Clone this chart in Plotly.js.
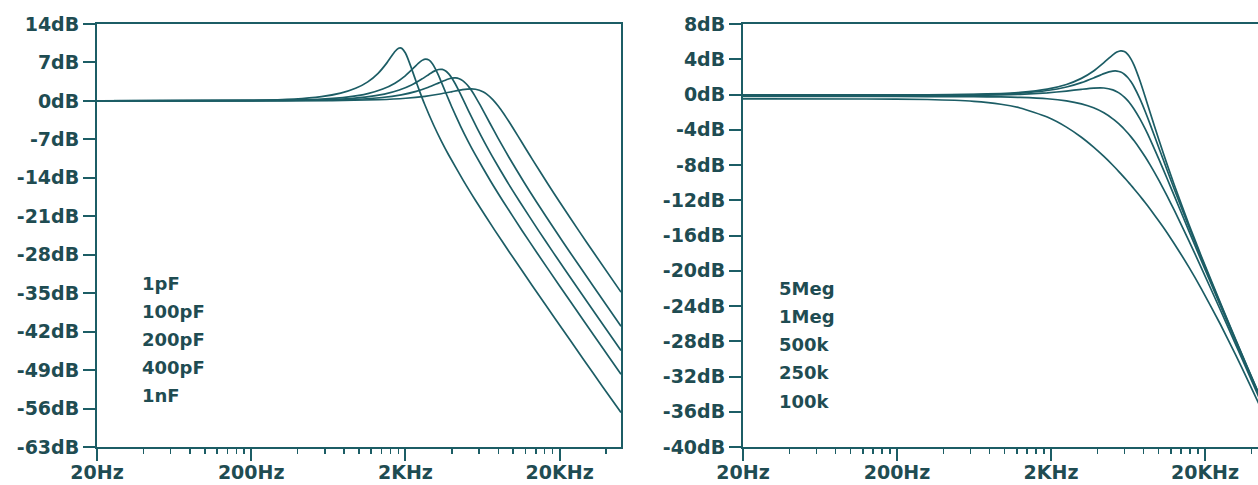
<!DOCTYPE html>
<html>
<head>
<meta charset="utf-8">
<script src="https://cdn.plot.ly/plotly-3.0.1.min.js"></script>
<style>html,body{margin:0;padding:0;background:#fff;}#chart{width:1258px;height:485px;}</style>
</head>
<body>
<div id="chart"></div>
<script>
// ---------- Left panel: capacitor sweep ----------
const leftLabels = ['1pF', '100pF', '200pF', '400pF', '1nF'];

const f1nF = [20, 190, 380, 570, 760, 950, 1140, 1330, 1520, 1615, 1710, 1805, 1853, 1900, 1995, 2090, 2185, 2280, 2470, 2660, 3040, 3420, 3800, 4750, 5700, 7600, 9500, 13300, 19000, 28500, 38000, 50000];
const db1nF = [0, 0.08, 0.33, 0.77, 1.41, 2.29, 3.47, 5.02, 6.97, 8.03, 8.99, 9.59, 9.66, 9.54, 8.76, 7.48, 6.00, 4.51, 1.78, -0.57, -4.34, -7.31, -9.75, -14.51, -18.13, -23.56, -27.63, -33.63, -39.92, -47.01, -52.02, -56.7];

const f400p = [20, 285, 570, 855, 1140, 1425, 1710, 1995, 2280, 2423, 2565, 2708, 2850, 2993, 3135, 3278, 3420, 3705, 3990, 4560, 5130, 5700, 7125, 8550, 11400, 14250, 19950, 28500, 42750, 50000];
const db400p = [0, 0.08, 0.32, 0.74, 1.34, 2.16, 3.23, 4.57, 6.10, 6.82, 7.38, 7.62, 7.42, 6.77, 5.80, 4.64, 3.43, 1.07, -1.06, -4.62, -7.49, -9.88, -14.58, -18.17, -23.58, -27.64, -33.64, -39.92, -47.01, -49.74];

const f200p = [20, 365, 730, 1095, 1460, 1825, 2190, 2555, 2920, 3103, 3285, 3468, 3650, 3833, 4015, 4198, 4380, 4745, 5110, 5840, 6570, 7300, 9125, 10950, 14600, 18250, 25550, 36500, 50000];
const db200p = [0, 0.08, 0.30, 0.69, 1.24, 1.98, 2.90, 3.98, 5.05, 5.47, 5.72, 5.73, 5.44, 4.87, 4.09, 3.17, 2.18, 0.18, -1.71, -5.00, -7.74, -10.06, -14.68, -18.23, -23.61, -27.66, -33.65, -39.93, -45.43];

const f100p = [20, 470, 940, 1410, 1880, 2350, 2820, 3290, 3760, 3995, 4230, 4465, 4700, 4935, 5170, 5405, 5640, 6110, 6580, 7520, 8460, 9400, 11750, 14100, 18800, 23500, 32900, 50000];
const db100p = [0, 0.07, 0.28, 0.62, 1.11, 1.74, 2.49, 3.28, 3.95, 4.14, 4.18, 4.03, 3.69, 3.17, 2.51, 1.75, 0.92, -0.78, -2.45, -5.47, -8.06, -10.30, -14.80, -18.32, -23.65, -27.68, -33.66, -41.02];

const f1p = [20, 670, 1340, 2010, 2680, 3350, 4020, 4690, 5360, 5695, 6030, 6365, 6700, 7370, 8040, 8710, 9380, 10720, 12060, 13400, 16750, 20100, 26800, 33500, 50000];
const db1p = [0, 0.06, 0.22, 0.48, 0.84, 1.26, 1.69, 2.05, 2.18, 2.12, 1.95, 1.67, 1.29, 0.25, -1.02, -2.39, -3.76, -6.37, -8.71, -10.78, -15.08, -18.49, -23.75, -27.74, -34.81];

const leftTickVals = [14, 7, 0, -7, -14, -21, -28, -35, -42, -49, -56, -63];
const leftTickText = ['14dB', '7dB', '0dB', '-7dB', '-14dB', '-21dB', '-28dB', '-35dB', '-42dB', '-49dB', '-56dB', '-63dB'];

// ---------- Right panel: resistor sweep ----------
const rightLabels = ['5Meg', '1Meg', '500k', '250k', '100k'];
const fRight = [20, 126, 315, 630, 945, 1260, 1890, 2520, 3150, 3780, 4410, 5040, 5355, 5670, 5985, 6300, 6615, 6930, 7560, 8190, 8820, 10080, 11340, 12600, 15750, 18900, 25200, 31500, 37800, 50000];
const db5Meg = [-0.05, -0.05, -0.03, 0.02, 0.11, 0.24, 0.61, 1.14, 1.83, 2.67, 3.62, 4.50, 4.81, 4.95, 4.87, 4.56, 4.02, 3.30, 1.55, -0.31, -2.09, -5.26, -7.93, -10.21, -14.78, -18.32, -23.68, -27.72, -30.98, -35.92];
const db1Meg = [-0.08, -0.08, -0.07, -0.02, 0.05, 0.16, 0.45, 0.85, 1.35, 1.88, 2.37, 2.65, 2.66, 2.55, 2.30, 1.93, 1.44, 0.85, -0.50, -1.96, -3.42, -6.15, -8.57, -10.70, -15.06, -18.51, -23.79, -27.80, -31.04, -35.97];
const db500k = [-0.12, -0.12, -0.11, -0.08, -0.04, 0.02, 0.19, 0.39, 0.59, 0.73, 0.74, 0.53, 0.32, 0.05, -0.30, -0.70, -1.16, -1.67, -2.77, -3.94, -5.12, -7.41, -9.53, -11.45, -15.53, -18.83, -23.98, -27.94, -31.15, -36.05];
const db250k = [-0.22, -0.22, -0.23, -0.25, -0.28, -0.33, -0.48, -0.72, -1.06, -1.51, -2.08, -2.76, -3.14, -3.53, -3.94, -4.37, -4.81, -5.26, -6.18, -7.10, -8.02, -9.81, -11.51, -13.10, -16.64, -19.64, -24.48, -28.29, -31.42, -36.25];
const db100k = [-0.50, -0.51, -0.57, -0.78, -1.11, -1.53, -2.56, -3.70, -4.85, -5.97, -7.03, -8.03, -8.51, -8.98, -9.43, -9.87, -10.30, -10.72, -11.52, -12.29, -13.02, -14.41, -15.69, -16.90, -19.62, -22.02, -26.10, -29.49, -32.37, -36.92];

const rightTickVals = [8, 4, 0, -4, -8, -12, -16, -20, -24, -28, -32, -36, -40];
const rightTickText = ['8dB', '4dB', '0dB', '-4dB', '-8dB', '-12dB', '-16dB', '-20dB', '-24dB', '-28dB', '-32dB', '-36dB', '-40dB'];

// ---------- shared x ticks ----------
const xTickVals = [20, 200, 2000, 20000];
const xTickText = ['20Hz', '200Hz', '2KHz', '20KHz'];
const xMinorVals = [40, 60, 80, 100, 120, 140, 160, 180, 400, 600, 800, 1000, 1200, 1400, 1600, 1800, 4000, 6000, 8000, 10000, 12000, 14000, 16000, 18000, 40000];

const lineColor = '#1c5d65';
const textColor = '#1f4c52';
const tickFont = {family: 'DejaVu Sans', size: 19, color: textColor, weight: 'bold'};
const legFont = {family: 'DejaVu Sans', size: 18, color: textColor, weight: 'bold'};

const leftSeries = [[f1p, db1p], [f100p, db100p], [f200p, db200p], [f400p, db400p], [f1nF, db1nF]];
const rightSeries = [db5Meg, db1Meg, db500k, db250k, db100k];

const traces = [];
leftSeries.forEach((s, i) => traces.push({
  x: s[0], y: s[1], xaxis: 'x', yaxis: 'y', name: leftLabels[i], type: 'scatter', mode: 'lines',
  line: {color: lineColor, width: 1.7, shape: 'spline', smoothing: 0.5}, hoverinfo: 'skip'
}));
rightSeries.forEach((s, i) => traces.push({
  x: fRight, y: s, xaxis: 'x2', yaxis: 'y2', name: rightLabels[i], type: 'scatter', mode: 'lines',
  line: {color: lineColor, width: 1.7, shape: 'spline', smoothing: 0.5}, hoverinfo: 'skip'
}));

function xAxis(domain, rangeEnd, anchor) {
  return {
    type: 'log', domain: domain, range: [Math.log10(20), Math.log10(rangeEnd)], anchor: anchor,
    tickmode: 'array', tickvals: xTickVals, ticktext: xTickText,
    ticks: 'outside', ticklen: 12, tickwidth: 2, tickcolor: lineColor, ticklabelstandoff: -5,
    minor: {tickmode: 'array', tickvals: xMinorVals, ticks: 'outside', ticklen: 5, tickwidth: 1.5, tickcolor: lineColor, showgrid: false},
    showline: true, linecolor: lineColor, linewidth: 2, mirror: true,
    showgrid: false, zeroline: false, tickfont: tickFont, automargin: false
  };
}
function yAxis(range, vals, text, anchor, mirror) {
  return {
    range: range, anchor: anchor, domain: [0, 1],
    tickmode: 'array', tickvals: vals, ticktext: text,
    ticks: 'outside', ticklen: 12, tickwidth: 2, tickcolor: lineColor,
    showline: true, linecolor: lineColor, linewidth: 2, mirror: mirror,
    showgrid: false, zeroline: false, tickfont: tickFont, automargin: false
  };
}

const annotations = [];
leftLabels.forEach((t, i) => annotations.push({
  text: t, xref: 'paper', yref: 'paper', x: 140 / 1258, y: (485 - 283 - i * 28 - 38) / 423,
  xanchor: 'left', yanchor: 'middle', showarrow: false, font: legFont
}));
rightLabels.forEach((t, i) => annotations.push({
  text: t, xref: 'paper', yref: 'paper', x: 777 / 1258, y: (485 - 288 - i * 28.3 - 38) / 423,
  xanchor: 'left', yanchor: 'middle', showarrow: false, font: legFont
}));

const layout = {
  width: 1258, height: 485,
  margin: {l: 0, r: 0, t: 24, b: 38},
  paper_bgcolor: '#ffffff', plot_bgcolor: '#ffffff',
  showlegend: false,
  xaxis: xAxis([97 / 1258, 621 / 1258], 50000, 'y'),
  yaxis: yAxis([-63, 14], leftTickVals, leftTickText, 'x', true),
  xaxis2: xAxis([743 / 1258, 1], 44160, 'y2'),
  yaxis2: yAxis([-40, 8], rightTickVals, rightTickText, 'x2', false),
  annotations: annotations
};

Plotly.newPlot('chart', traces, layout, {staticPlot: true, displayModeBar: false});
</script>
</body>
</html>
